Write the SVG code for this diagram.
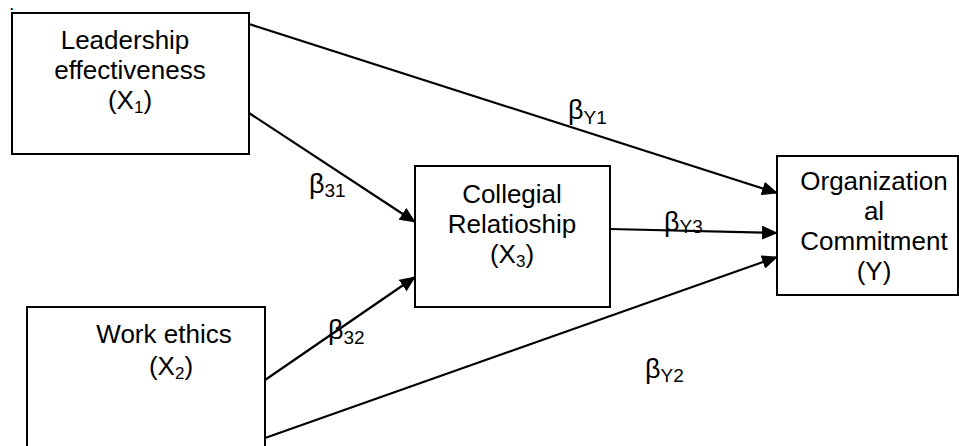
<svg xmlns="http://www.w3.org/2000/svg" width="959" height="446" viewBox="0 0 959 446">
<defs>
<style>
.box{fill:#fff;stroke:#000;stroke-width:2}
.t{font-family:"Liberation Sans",Arial,sans-serif;font-size:26px;fill:#000}
.sub{font-size:17px}
.b{font-family:"Liberation Sans",Arial,sans-serif;font-size:27px;fill:#000}
.bs{font-size:19px}
.ln{stroke:#000;stroke-width:2.2;fill:none;marker-end:url(#ah)}
</style>
<marker id="ah" markerUnits="userSpaceOnUse" markerWidth="16" markerHeight="14" refX="15" refY="7" orient="auto">
<path d="M0,0 L16,7 L0,14 Z" fill="#000"/>
</marker>
</defs>
<rect width="959" height="446" fill="#fff"/>
<text x="10" y="10" style="font-family:'Liberation Sans',Arial,sans-serif;font-size:12px;font-weight:bold">.</text>
<g id="x1">
<rect class="box" x="12" y="13" width="237" height="141"/>
<text class="t" x="125" y="49" text-anchor="middle">Leadership</text>
<text class="t" x="130" y="79" text-anchor="middle">effectiveness</text>
<text class="t" x="130" y="109" text-anchor="middle">(X<tspan class="sub" dy="4">1</tspan><tspan dy="-4">)</tspan></text>
</g>
<g id="x3">
<rect class="box" x="415" y="166" width="195" height="141"/>
<text class="t" x="512" y="203" text-anchor="middle">Collegial</text>
<text class="t" x="512" y="233" text-anchor="middle">Relatioship</text>
<text class="t" x="512" y="263" text-anchor="middle">(X<tspan class="sub" dy="4">3</tspan><tspan dy="-4">)</tspan></text>
</g>
<g id="y">
<rect class="box" x="777" y="156" width="181" height="139"/>
<text class="t" x="874" y="190" text-anchor="middle">Organization</text>
<text class="t" x="874" y="220" text-anchor="middle">al</text>
<text class="t" x="874" y="250" text-anchor="middle">Commitment</text>
<text class="t" x="874" y="280" text-anchor="middle">(Y)</text>
</g>
<g id="x2">
<rect class="box" x="27" y="307" width="238" height="150"/>
<text class="t" x="164" y="343" text-anchor="middle">Work ethics</text>
<text class="t" x="171" y="375" text-anchor="middle">(X<tspan class="sub" dy="4">2</tspan><tspan dy="-4">)</tspan></text>
</g>
<g id="connectors">
<line class="ln" x1="249" y1="24" x2="777" y2="193"/>
<line class="ln" x1="249" y1="113" x2="415" y2="222"/>
<line class="ln" x1="265" y1="380" x2="415" y2="277"/>
<line class="ln" x1="610" y1="229" x2="777" y2="233"/>
<line class="ln" x1="265" y1="438" x2="777" y2="257"/>
</g>
<g id="labels">
<text class="b" x="568" y="119">β<tspan class="bs" dy="5">Y1</tspan></text>
<text class="b" x="309" y="193">β<tspan class="bs" dy="4">31</tspan></text>
<text class="b" x="328" y="339">β<tspan class="bs" dy="5">32</tspan></text>
<text class="b" x="664" y="231">β<tspan class="bs" dy="2">Y3</tspan></text>
<text class="b" x="645" y="378">β<tspan class="bs" dy="4">Y2</tspan></text>
</g>
</svg>
